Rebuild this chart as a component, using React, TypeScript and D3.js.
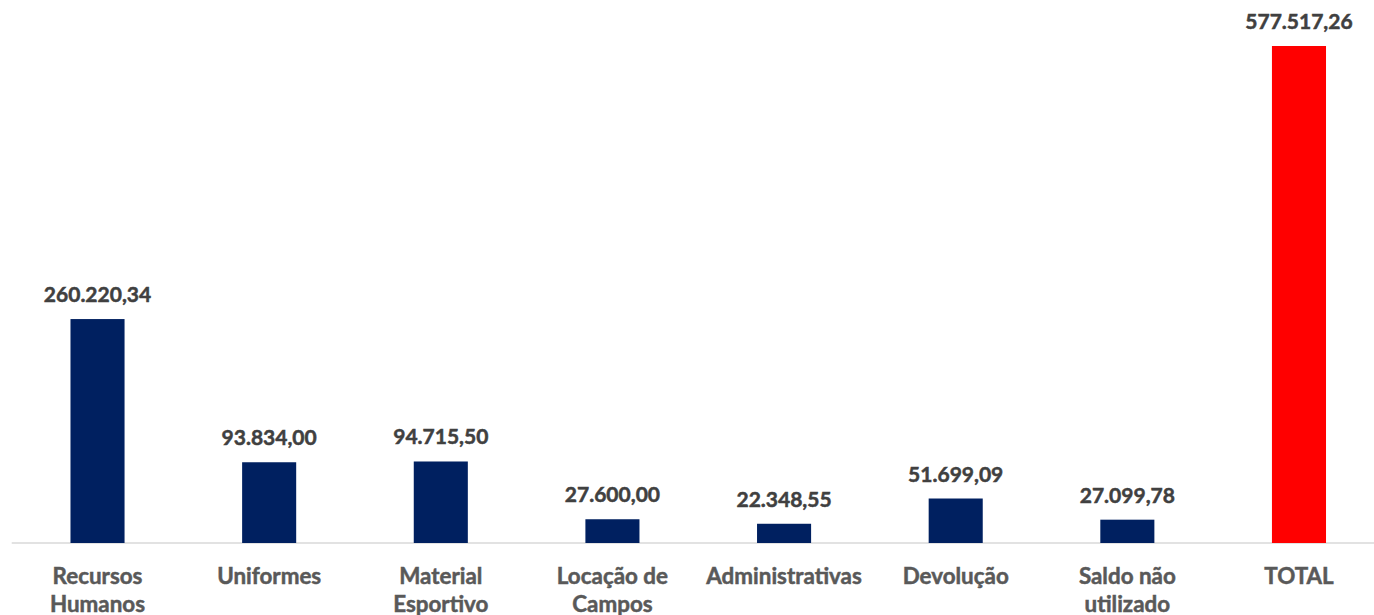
import * as d3 from "d3";

const categories = [
  ["Recursos", "Humanos"],
  ["Uniformes"],
  ["Material", "Esportivo"],
  ["Locação de", "Campos"],
  ["Administrativas"],
  ["Devolução"],
  ["Saldo não", "utilizado"],
  ["TOTAL"],
];
const values = [260220.34, 93834.0, 94715.5, 27600.0, 22348.55, 51699.09, 27099.78, 577517.26];
const barColors = ["#002060", "#002060", "#002060", "#002060", "#002060", "#002060", "#002060", "#FF0000"];

const W = 1374;
const H = 615;
const baseline = 543;
const font = "Lato, 'Open Sans', sans-serif";

const fmt = (v: number) =>
  v.toLocaleString("pt-BR", { minimumFractionDigits: 2, maximumFractionDigits: 2 });

export default function App() {
  const keys = categories.map((c) => c.join(" "));
  const x = d3.scaleBand<string>()
    .domain(keys)
    .range([11.7, 1384.8])
    .paddingInner(0.685)
    .paddingOuter(0.3425);
  const y = d3.scaleLinear().domain([0, 577517.26]).range([baseline, 46]);

  return (
    <svg
      width={W}
      height={H}
      style={{ position: "absolute", left: 0, top: 0, background: "#fff" }}
    >
      <line x1={11.7} x2={W} y1={baseline} y2={baseline} stroke="#d9d9d9" strokeWidth={1.5} />
      {values.map((v, i) => {
        const cx = x(keys[i])! + x.bandwidth() / 2;
        return (
          <g key={keys[i]}>
            <rect
              x={x(keys[i])}
              y={y(v)}
              width={x.bandwidth()}
              height={baseline - y(v)}
              fill={barColors[i]}
            />
            {/* value label */}
            <text
              x={cx}
              y={y(v) - 17}
              textAnchor="middle"
              fontFamily={font}
              fontWeight={700}
              fontSize={21}
              fill="#404040"
              stroke="#404040"
              strokeWidth={0.5}
            >
              {fmt(v)}
            </text>
            {/* category label */}
            <text
              x={cx}
              y={583.5}
              textAnchor="middle"
              fontFamily={font}
              fontWeight={700}
              fontSize={22.4}
              fill="#595959"
              stroke="#595959"
              strokeWidth={0.5}
            >
              {categories[i].map((line, j) => (
                <tspan key={j} x={cx} dy={j === 0 ? 0 : 28}>
                  {line}
                </tspan>
              ))}
            </text>
          </g>
        );
      })}
    </svg>
  );
}
